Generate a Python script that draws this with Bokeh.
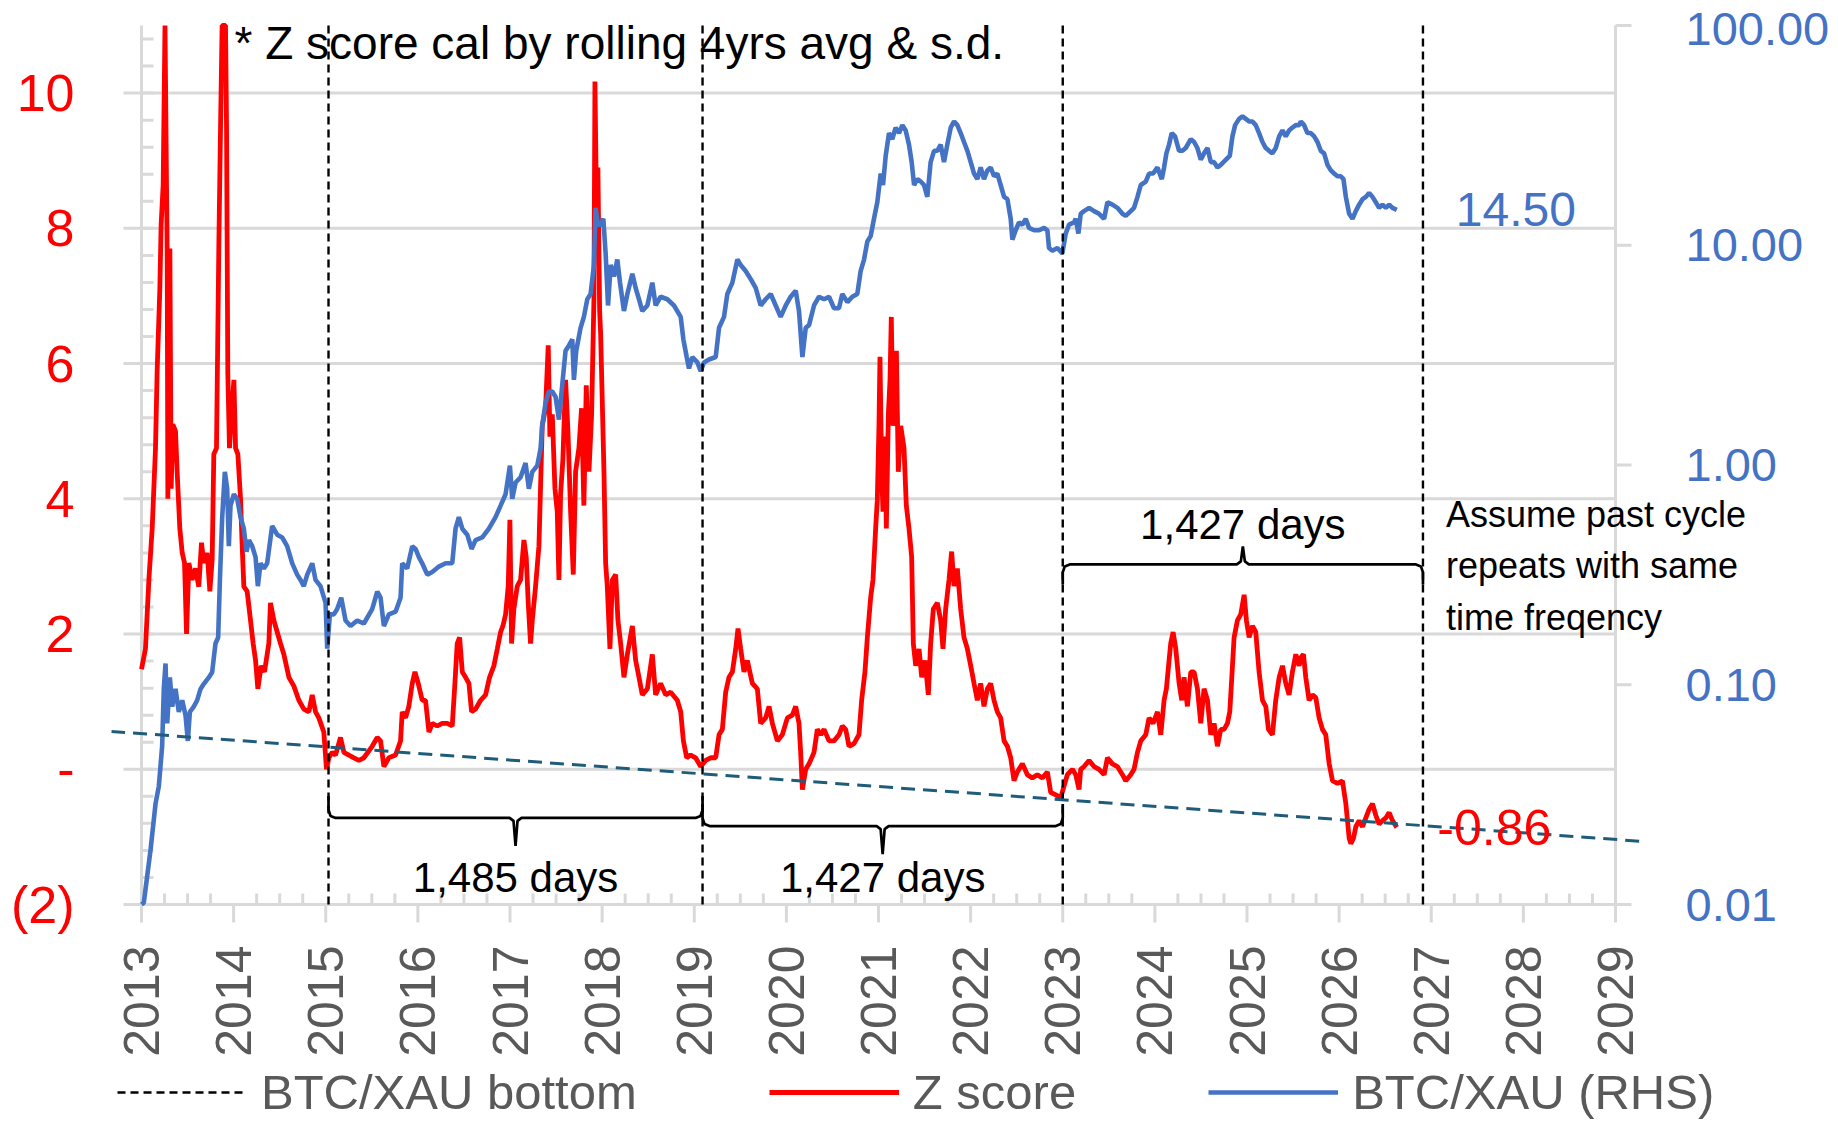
import math
from bokeh.plotting import figure
from bokeh.models import (Range1d, LogScale, FixedTicker, Label, Legend, LegendItem)
from bokeh.embed import file_html
from bokeh.resources import INLINE

# ---------------- data ----------------
z_year = [2013.000, 2013.043, 2013.080, 2013.116, 2013.152, 2013.170, 2013.199, 2013.213, 2013.235, 2013.255,
          2013.279, 2013.286, 2013.308, 2013.322, 2013.340, 2013.369, 2013.387, 2013.416, 2013.442, 2013.467,
          2013.489, 2013.514, 2013.550, 2013.586, 2013.622, 2013.651, 2013.677, 2013.713, 2013.742, 2013.767,
          2013.785, 2013.814, 2013.840, 2013.858, 2013.875, 2013.912, 2013.923, 2013.937, 2013.955, 2013.977,
          2014.003, 2014.021, 2014.046, 2014.075, 2014.093, 2014.111, 2014.147, 2014.176, 2014.212, 2014.238,
          2014.263, 2014.299, 2014.335, 2014.382, 2014.400, 2014.437, 2014.473, 2014.509, 2014.545, 2014.600,
          2014.654, 2014.708, 2014.762, 2014.817, 2014.853, 2014.889, 2014.925, 2014.979, 2015.008, 2015.034,
          2015.070, 2015.106, 2015.160, 2015.197, 2015.251, 2015.305, 2015.360, 2015.414, 2015.504, 2015.559,
          2015.595, 2015.631, 2015.685, 2015.758, 2015.812, 2015.830, 2015.866, 2015.902, 2015.939, 2015.968,
          2016.004, 2016.047, 2016.083, 2016.120, 2016.156, 2016.210, 2016.264, 2016.319, 2016.373, 2016.402,
          2016.427, 2016.453, 2016.482, 2016.518, 2016.554, 2016.583, 2016.626, 2016.681, 2016.735, 2016.778,
          2016.825, 2016.862, 2016.898, 2016.923, 2016.952, 2016.981, 2016.999, 2017.017, 2017.042, 2017.079,
          2017.115, 2017.151, 2017.176, 2017.198, 2017.223, 2017.242, 2017.278, 2017.314, 2017.350, 2017.386,
          2017.415, 2017.433, 2017.459, 2017.488, 2017.513, 2017.531, 2017.549, 2017.574, 2017.603, 2017.629,
          2017.658, 2017.687, 2017.712, 2017.748, 2017.777, 2017.802, 2017.828, 2017.857, 2017.886, 2017.911,
          2017.922, 2017.936, 2017.954, 2017.973, 2017.984, 2018.020, 2018.038, 2018.056, 2018.085, 2018.111,
          2018.147, 2018.172, 2018.201, 2018.237, 2018.274, 2018.328, 2018.364, 2018.400, 2018.436, 2018.491,
          2018.545, 2018.581, 2018.635, 2018.690, 2018.744, 2018.816, 2018.853, 2018.882, 2018.918, 2018.961,
          2019.015, 2019.070, 2019.124, 2019.178, 2019.233, 2019.269, 2019.305, 2019.341, 2019.377, 2019.414,
          2019.450, 2019.475, 2019.504, 2019.540, 2019.576, 2019.631, 2019.685, 2019.721, 2019.775, 2019.812,
          2019.848, 2019.902, 2019.956, 2020.011, 2020.065, 2020.101, 2020.137, 2020.155, 2020.174, 2020.210,
          2020.246, 2020.300, 2020.336, 2020.373, 2020.409, 2020.463, 2020.517, 2020.571, 2020.607, 2020.644,
          2020.680, 2020.734, 2020.788, 2020.817, 2020.853, 2020.879, 2020.915, 2020.940, 2020.969, 2020.987,
          2021.005, 2021.016, 2021.034, 2021.049, 2021.071, 2021.085, 2021.107, 2021.125, 2021.139, 2021.157,
          2021.179, 2021.194, 2021.215, 2021.241, 2021.277, 2021.302, 2021.331, 2021.360, 2021.378, 2021.404,
          2021.440, 2021.469, 2021.505, 2021.541, 2021.566, 2021.595, 2021.639, 2021.675, 2021.700, 2021.729,
          2021.765, 2021.794, 2021.820, 2021.856, 2021.892, 2021.928, 2021.965, 2022.001, 2022.037, 2022.073,
          2022.109, 2022.145, 2022.182, 2022.218, 2022.254, 2022.290, 2022.326, 2022.363, 2022.399, 2022.435,
          2022.471, 2022.507, 2022.562, 2022.616, 2022.670, 2022.724, 2022.779, 2022.833, 2022.869, 2022.924,
          2022.978, 2023.014, 2023.050, 2023.105, 2023.141, 2023.177, 2023.195, 2023.231, 2023.286, 2023.340,
          2023.394, 2023.449, 2023.485, 2023.539, 2023.593, 2023.648, 2023.684, 2023.738, 2023.774, 2023.811,
          2023.847, 2023.901, 2023.937, 2023.981, 2024.028, 2024.064, 2024.100, 2024.125, 2024.154, 2024.172,
          2024.198, 2024.227, 2024.263, 2024.292, 2024.317, 2024.353, 2024.390, 2024.426, 2024.462, 2024.498,
          2024.534, 2024.571, 2024.607, 2024.643, 2024.679, 2024.715, 2024.751, 2024.788, 2024.813, 2024.835,
          2024.860, 2024.896, 2024.932, 2024.969, 2024.994, 2025.023, 2025.059, 2025.095, 2025.131, 2025.168,
          2025.204, 2025.233, 2025.276, 2025.312, 2025.349, 2025.385, 2025.421, 2025.457, 2025.493, 2025.530,
          2025.566, 2025.584, 2025.613, 2025.638, 2025.674, 2025.711, 2025.747, 2025.783, 2025.819, 2025.855,
          2025.892, 2025.928, 2025.982, 2026.036, 2026.073, 2026.109, 2026.127, 2026.156, 2026.181, 2026.217,
          2026.254, 2026.290, 2026.326, 2026.362, 2026.398, 2026.434, 2026.471, 2026.507, 2026.543, 2026.579,
          2026.626]
z_score = [1.48, 1.78, 2.80, 3.56, 4.75, 5.90, 7.10, 8.05, 8.64, 11.00,
           7.60, 4.00, 7.70, 4.15, 5.10, 5.00, 4.40, 3.56, 3.20, 3.05,
           2.00, 3.05, 2.80, 2.97, 2.70, 3.35, 3.05, 3.20, 2.63, 3.10,
           4.66, 4.75, 7.80, 9.50, 11.00, 11.00, 9.50, 5.85, 4.75, 5.25,
           5.76, 4.75, 4.66, 4.00, 3.30, 2.70, 2.63, 2.29, 1.86, 1.61,
           1.19, 1.53, 1.44, 1.86, 2.46, 2.20, 2.03, 1.86, 1.70, 1.36,
           1.23, 1.02, 0.89, 0.85, 1.10, 0.85, 0.76, 0.55, 0.00, 0.17,
           0.25, 0.21, 0.47, 0.25, 0.21, 0.17, 0.13, 0.17, 0.34, 0.47,
           0.42, 0.04, 0.17, 0.21, 0.42, 0.85, 0.76, 0.93, 1.27, 1.44,
           1.27, 1.02, 1.02, 0.55, 0.68, 0.64, 0.68, 0.68, 0.64, 1.27,
           1.86, 1.95, 1.44, 1.36, 1.27, 0.85, 0.89, 1.02, 1.10, 1.36,
           1.53, 1.78, 2.03, 2.12, 2.29, 2.71, 3.69, 1.86, 2.37, 2.71,
           2.80, 3.39, 3.14, 2.46, 1.86, 2.20, 2.71, 3.30, 5.08, 5.34,
           6.27, 4.92, 5.25, 4.15, 3.81, 2.80, 4.07, 4.58, 5.76, 5.00,
           3.81, 2.88, 4.40, 4.75, 5.34, 3.90, 5.68, 4.40, 5.25, 6.95,
           10.17, 8.64, 8.90, 6.78, 6.44, 4.40, 3.05, 2.71, 1.78, 2.80,
           2.88, 2.20, 1.86, 1.36, 1.70, 2.12, 1.61, 1.36, 1.10, 1.19,
           1.70, 1.10, 1.27, 1.10, 1.14, 1.02, 0.85, 0.42, 0.17, 0.21,
           0.17, 0.04, 0.13, 0.17, 0.17, 0.51, 0.59, 1.14, 1.36, 1.44,
           1.78, 2.08, 1.78, 1.44, 1.61, 1.27, 1.19, 0.68, 0.76, 0.93,
           0.68, 0.42, 0.51, 0.76, 0.80, 0.93, 0.68, 0.25, -0.30, 0.00,
           0.08, 0.25, 0.59, 0.51, 0.59, 0.42, 0.42, 0.51, 0.64, 0.59,
           0.34, 0.38, 0.51, 1.02, 1.44, 1.95, 2.54, 2.80, 3.56, 3.98,
           5.08, 6.10, 4.40, 3.81, 4.92, 3.56, 5.25, 5.76, 6.69, 5.08,
           5.76, 6.19, 4.40, 5.08, 4.75, 3.90, 3.56, 3.14, 1.86, 1.53,
           1.78, 1.36, 1.61, 1.10, 1.86, 2.37, 2.46, 2.20, 1.78, 2.37,
           2.80, 3.22, 2.71, 2.97, 2.37, 1.95, 1.78, 1.53, 1.27, 1.02,
           1.27, 0.93, 1.19, 1.27, 1.02, 0.85, 0.76, 0.42, 0.34, 0.17,
           -0.17, -0.04, 0.08, -0.08, -0.13, -0.08, -0.13, -0.04, -0.34, -0.38,
           -0.42, -0.25, -0.08, 0.00, -0.08, -0.30, 0.00, 0.04, 0.13, 0.04,
           0.00, -0.08, 0.17, 0.08, 0.04, -0.08, -0.17, -0.08, 0.00, 0.25,
           0.42, 0.51, 0.76, 0.68, 0.85, 0.51, 1.02, 1.19, 1.61, 1.86,
           2.03, 1.78, 1.27, 1.02, 1.36, 0.93, 1.44, 1.44, 1.19, 0.68,
           1.19, 1.02, 0.51, 0.68, 0.34, 0.59, 0.59, 0.68, 0.85, 1.36,
           1.95, 2.20, 2.29, 2.58, 2.20, 1.95, 2.12, 2.03, 1.44, 1.02,
           0.93, 0.59, 0.51, 1.02, 1.36, 1.53, 1.27, 1.10, 1.44, 1.70,
           1.53, 1.65, 1.70, 1.36, 1.02, 1.10, 1.06, 0.76, 0.59, 0.51,
           0.08, -0.17, -0.21, -0.17, -0.51, -1.02, -1.10, -1.02, -0.85, -0.76,
           -0.85, -0.72, -0.59, -0.51, -0.68, -0.81, -0.76, -0.72, -0.64, -0.76,
           -0.86]

bx_year = [2013.000, 2013.025, 2013.098, 2013.152, 2013.188, 2013.224, 2013.242, 2013.261, 2013.279, 2013.308,
           2013.333, 2013.369, 2013.405, 2013.442, 2013.478, 2013.503, 2013.525, 2013.568, 2013.604, 2013.641,
           2013.677, 2013.731, 2013.767, 2013.803, 2013.832, 2013.851, 2013.876, 2013.905, 2013.930, 2013.948,
           2013.966, 2014.003, 2014.039, 2014.075, 2014.111, 2014.140, 2014.166, 2014.202, 2014.238, 2014.263,
           2014.292, 2014.328, 2014.364, 2014.418, 2014.473, 2014.527, 2014.581, 2014.636, 2014.690, 2014.726,
           2014.762, 2014.799, 2014.853, 2014.889, 2014.943, 2014.998, 2015.016, 2015.045, 2015.088, 2015.124,
           2015.168, 2015.215, 2015.269, 2015.342, 2015.414, 2015.504, 2015.559, 2015.595, 2015.631, 2015.685,
           2015.758, 2015.812, 2015.830, 2015.884, 2015.939, 2015.975, 2016.011, 2016.047, 2016.102, 2016.156,
           2016.228, 2016.301, 2016.373, 2016.409, 2016.445, 2016.482, 2016.536, 2016.583, 2016.626, 2016.699,
           2016.771, 2016.843, 2016.898, 2016.952, 2016.999, 2017.024, 2017.061, 2017.115, 2017.169, 2017.205,
           2017.242, 2017.296, 2017.332, 2017.350, 2017.386, 2017.423, 2017.459, 2017.495, 2017.531, 2017.567,
           2017.603, 2017.640, 2017.676, 2017.694, 2017.719, 2017.766, 2017.802, 2017.839, 2017.875, 2017.911,
           2017.929, 2017.954, 2017.984, 2018.013, 2018.038, 2018.064, 2018.093, 2018.129, 2018.165, 2018.194,
           2018.237, 2018.274, 2018.328, 2018.364, 2018.400, 2018.436, 2018.491, 2018.545, 2018.581, 2018.635,
           2018.708, 2018.780, 2018.853, 2018.882, 2018.918, 2018.943, 2018.979, 2019.034, 2019.070, 2019.106,
           2019.160, 2019.233, 2019.269, 2019.323, 2019.359, 2019.414, 2019.468, 2019.504, 2019.558, 2019.613,
           2019.667, 2019.721, 2019.775, 2019.830, 2019.884, 2019.938, 2019.993, 2020.047, 2020.101, 2020.137,
           2020.174, 2020.210, 2020.246, 2020.300, 2020.354, 2020.409, 2020.463, 2020.517, 2020.571, 2020.607,
           2020.662, 2020.716, 2020.770, 2020.806, 2020.843, 2020.879, 2020.915, 2020.951, 2020.987, 2021.024,
           2021.049, 2021.078, 2021.114, 2021.150, 2021.186, 2021.223, 2021.259, 2021.295, 2021.331, 2021.360,
           2021.386, 2021.422, 2021.458, 2021.494, 2021.530, 2021.566, 2021.603, 2021.639, 2021.675, 2021.711,
           2021.747, 2021.784, 2021.820, 2021.856, 2021.892, 2021.928, 2021.965, 2022.001, 2022.037, 2022.073,
           2022.109, 2022.145, 2022.182, 2022.218, 2022.254, 2022.290, 2022.326, 2022.363, 2022.399, 2022.435,
           2022.453, 2022.489, 2022.525, 2022.562, 2022.598, 2022.634, 2022.688, 2022.743, 2022.797, 2022.833,
           2022.851, 2022.887, 2022.942, 2022.996, 2023.032, 2023.068, 2023.123, 2023.141, 2023.170, 2023.195,
           2023.231, 2023.286, 2023.340, 2023.394, 2023.449, 2023.485, 2023.539, 2023.593, 2023.648, 2023.684,
           2023.738, 2023.774, 2023.811, 2023.847, 2023.901, 2023.937, 2023.981, 2024.028, 2024.075, 2024.100,
           2024.125, 2024.154, 2024.183, 2024.219, 2024.263, 2024.299, 2024.335, 2024.390, 2024.426, 2024.462,
           2024.498, 2024.534, 2024.571, 2024.607, 2024.643, 2024.679, 2024.715, 2024.770, 2024.813, 2024.842,
           2024.871, 2024.914, 2024.951, 2024.987, 2025.023, 2025.059, 2025.095, 2025.131, 2025.168, 2025.204,
           2025.240, 2025.276, 2025.312, 2025.349, 2025.385, 2025.421, 2025.457, 2025.493, 2025.530, 2025.566,
           2025.584, 2025.620, 2025.656, 2025.693, 2025.729, 2025.765, 2025.801, 2025.837, 2025.874, 2025.910,
           2025.946, 2025.982, 2026.018, 2026.047, 2026.073, 2026.109, 2026.145, 2026.181, 2026.217, 2026.254,
           2026.290, 2026.326, 2026.362, 2026.398, 2026.434, 2026.471, 2026.507, 2026.543, 2026.579, 2026.626]
btc_xau = [0.0100, 0.0102, 0.0177, 0.0287, 0.0345, 0.0525, 0.0957, 0.125, 0.0667, 0.108,
           0.0796, 0.0957, 0.0753, 0.0849, 0.0727, 0.0555, 0.0753, 0.0796, 0.0849, 0.0957,
           0.101, 0.108, 0.114, 0.154, 0.164, 0.300, 0.579, 0.931, 0.780, 0.427,
           0.653, 0.736, 0.702, 0.579, 0.513, 0.403, 0.455, 0.427, 0.381, 0.281,
           0.357, 0.338, 0.357, 0.528, 0.482, 0.468, 0.427, 0.357, 0.317, 0.300,
           0.281, 0.317, 0.357, 0.300, 0.281, 0.236, 0.146, 0.209, 0.209, 0.221,
           0.249, 0.196, 0.185, 0.196, 0.190, 0.221, 0.265, 0.249, 0.185, 0.209,
           0.215, 0.249, 0.357, 0.338, 0.427, 0.415, 0.381, 0.357, 0.317, 0.326,
           0.345, 0.357, 0.357, 0.513, 0.579, 0.513, 0.482, 0.415, 0.455, 0.468,
           0.513, 0.579, 0.653, 0.736, 0.993, 0.702, 0.832, 0.880, 1.02, 0.780,
           0.931, 0.993, 1.19, 1.51, 1.92, 2.16, 2.16, 2.04, 1.61, 2.31,
           3.31, 3.50, 3.73, 2.44, 3.31, 4.21, 4.72, 5.68, 6.00, 8.13,
           14.8, 12.4, 12.4, 13.2, 9.18, 5.32, 8.13, 7.21, 8.61, 6.76,
           5.02, 6.00, 7.41, 6.39, 5.68, 5.02, 5.32, 6.76, 5.32, 5.83,
           5.68, 5.32, 4.72, 3.73, 3.10, 2.75, 3.10, 2.93, 2.67, 2.93,
           3.02, 3.10, 4.21, 4.72, 6.00, 6.76, 8.61, 8.13, 7.63, 7.01,
           6.39, 5.32, 5.68, 6.00, 5.32, 4.72, 5.32, 5.83, 6.21, 5.02,
           3.10, 4.21, 4.33, 5.32, 5.83, 5.68, 5.83, 5.17, 5.17, 6.00,
           5.51, 5.83, 6.00, 7.63, 8.61, 10.4, 11.0, 13.2, 15.7, 21.2,
           18.8, 25.5, 32.4, 30.4, 34.3, 32.4, 35.2, 33.3, 28.7, 23.9,
           18.8, 20.0, 19.5, 18.8, 16.6, 23.9, 26.9, 26.9, 28.7, 23.9,
           28.7, 34.3, 36.6, 35.2, 32.4, 29.5, 26.9, 23.9, 21.2, 20.0,
           22.6, 20.0, 21.9, 22.6, 20.6, 21.2, 18.8, 16.6, 16.2, 13.2,
           10.6, 11.7, 12.7, 12.4, 13.2, 12.0, 11.7, 11.7, 12.0, 11.7,
           9.71, 9.44, 9.71, 9.18, 11.3, 12.4, 12.7, 13.2, 11.3, 13.9,
           14.3, 14.8, 14.3, 13.9, 13.2, 15.7, 15.3, 14.8, 13.9, 13.6,
           14.3, 14.8, 16.6, 18.8, 19.5, 21.2, 21.2, 22.6, 20.0, 22.6,
           26.2, 28.7, 32.4, 31.3, 26.9, 26.9, 27.7, 30.4, 29.5, 27.7,
           24.5, 26.2, 27.7, 23.9, 23.9, 22.6, 23.2, 24.5, 25.5, 31.3,
           35.2, 37.6, 38.6, 37.6, 36.6, 36.6, 35.2, 32.4, 29.5, 27.7,
           26.9, 26.2, 27.7, 31.3, 33.3, 31.3, 33.3, 34.3, 35.2, 35.2,
           36.6, 35.2, 32.4, 32.4, 31.3, 29.5, 26.9, 26.2, 23.2, 21.9,
           21.2, 20.6, 20.6, 20.0, 16.6, 13.9, 13.2, 14.3, 15.3, 16.2,
           16.6, 17.3, 16.6, 15.7, 14.8, 15.3, 14.8, 15.3, 14.8, 14.5]

bottom_years = [2015.03, 2019.09, 2023.00, 2026.91]          # BTC/XAU cycle bottoms
cycle_labels = ["1,485 days", "1,427 days", "1,427 days"]
trend_x = [2012.67, 2029.33]                                  # dashed support line
trend_y = [0.56, -1.07]
year_ticks = list(range(2013, 2030))
z_ticks = [-2, 0, 2, 4, 6, 8, 10]
rhs_ticks = [0.01, 0.1, 1, 10, 100]
last_z_label = "-0.86"
last_bx_label = "14.50"
note_top = "* Z score cal by rolling 4yrs avg & s.d."
note_right = ["Assume past cycle", "repeats with same", "time freqency"]
legend_labels = ["BTC/XAU bottom", "Z score", "BTC/XAU (RHS)"]

# ---------------- styling / geometry ----------------
FONT = "Liberation Sans"
GRID = "#D9D9D9"
RED = "#FF0000"
BLUE = "#4472C4"
GREY_TXT = "#595959"
TEAL = "#1F5C7A"

AX0, AX1, AY0, AY1 = 2013, 2029, -2, 11        # axis extents
PXX = 1474 / (AX1 - AX0)                         # px per year
PXY = 879 / (AY1 - AY0)                          # px per z unit
FW, FH = 1725, 1124
XL = AX0 - 30 / PXX
XR = XL + FW / PXX
YT = AY1 + 25 / PXY
YB = YT - FH / PXY
RHS_TOP = 10 ** (2 + (YT - AY1) * 4 / 13)
RHS_BOT = 10 ** (-2 + (YB - AY0) * 4 / 13)

p = figure(frame_width=FW, frame_height=FH,
           x_range=Range1d(XL, XR), y_range=Range1d(YB, YT),
           output_backend="svg", toolbar_location=None,
           min_border_left=111, min_border_top=0, min_border_right=0, min_border_bottom=0)
p.outline_line_color = None
p.background_fill_color = "white"
p.border_fill_color = "white"
p.extra_y_ranges = {"rhs": Range1d(RHS_BOT, RHS_TOP)}
p.extra_y_scales = {"rhs": LogScale()}
p.xgrid.visible = False
p.ygrid.visible = False
p.xaxis.visible = False

# left axis labels
ya = p.yaxis[0]
ya.ticker = FixedTicker(ticks=z_ticks)
ya.major_label_overrides = {-2: "(2)", 0: "-"}
ya.major_label_text_font = FONT
ya.major_label_text_font_size = "52px"
ya.major_label_text_color = RED
ya.axis_line_color = None
ya.major_tick_line_color = None
ya.minor_tick_line_color = None
ya.major_tick_out = 0
ya.minor_tick_out = 0
ya.major_label_standoff = 37

# gridlines (with their left tick stubs), axis lines and tick marks
gx0 = AX0 - 18 / PXX
p.segment(x0=[gx0] * len(z_ticks), y0=z_ticks, x1=[AX1] * len(z_ticks), y1=z_ticks,
          line_color=GRID, line_width=3)
p.segment(x0=[AX0, AX1], y0=[AY0, AY0], x1=[AX0, AX1], y1=[AY1, AY1], line_color=GRID, line_width=3)
minor_y = [round(AY0 + 0.4 * i, 1) for i in range(1, 33)]
p.segment(x0=[AX0] * len(minor_y), y0=minor_y, x1=[AX0 + 12 / PXX] * len(minor_y), y1=minor_y,
          line_color=GRID, line_width=3)
p.segment(x0=year_ticks, y0=[AY0] * len(year_ticks), x1=year_ticks, y1=[AY0 - 18 / PXY] * len(year_ticks),
          line_color=GRID, line_width=3)
minor_x = [y + q / 4 for y in year_ticks[:-1] for q in range(1, 4)]
p.segment(x0=minor_x, y0=[AY0] * len(minor_x), x1=minor_x, y1=[AY0 + 11 / PXY] * len(minor_x),
          line_color=GRID, line_width=3)
p.segment(x0=[AX1] * len(rhs_ticks), y0=rhs_ticks, x1=[AX1 + 16 / PXX] * len(rhs_ticks), y1=rhs_ticks,
          line_color=GRID, line_width=3, y_range_name="rhs")

# tick labels: right (log) axis and rotated year labels
for t in rhs_ticks:
    p.add_layout(Label(x=AX1 + 70 / PXX, y=t, y_range_name="rhs", text=f"{t:.2f}", text_align="left",
                       text_baseline="middle", text_font=FONT, text_font_size="47px", text_color=BLUE,
                       y_offset=-3 if t == rhs_ticks[-1] else 0))
for yr in year_ticks:
    p.add_layout(Label(x=yr, y=AY0 - 41 / PXY, text=str(yr), angle=math.pi / 2, text_align="right",
                       text_baseline="middle", text_font=FONT, text_font_size="50px", text_color=GREY_TXT))

# series
r_z = p.line(z_year, z_score, line_color=RED, line_width=4.8)
r_b = p.line(bx_year, btc_xau, line_color=BLUE, line_width=4.6, y_range_name="rhs")
r_v = p.segment(x0=bottom_years, y0=[AY0] * len(bottom_years), x1=bottom_years, y1=[AY1] * len(bottom_years),
                line_color="black", line_width=2.4, line_dash="8 5")
p.line(trend_x, trend_y, line_color=TEAL, line_width=3, line_dash="14 8")

# curly brackets between bottoms
def brace(xa_, xb_, yl, s, end_px, tip_px):
    dx = lambda px: px / PXX
    dy = lambda px: px / PXY
    xc = (xa_ + xb_) / 2
    xs = [xa_, xa_, xa_ + dx(2), xa_ + dx(7), xc - dx(6), xc - dx(2), xc, xc + dx(2), xc + dx(6),
          xb_ - dx(7), xb_ - dx(2), xb_, xb_]
    ys = [yl - s * dy(end_px), yl - s * dy(8), yl - s * dy(2), yl, yl, yl + s * dy(3), yl + s * dy(tip_px),
          yl + s * dy(3), yl, yl, yl - s * dy(2), yl - s * dy(8), yl - s * dy(end_px)]
    p.line(xs, ys, line_color="black", line_width=2.7)
    return xc

brace_levels = [(-0.72, -1, 22, 28, -1.60), (-0.84, -1, 22, 28, -1.60), (3.03, 1, 20, 18, 3.62)]
for i, (yl, s, e, t, ty) in enumerate(brace_levels):
    xc = brace(bottom_years[i], bottom_years[i + 1], yl, s, e, t)
    p.add_layout(Label(x=xc, y=ty, text=cycle_labels[i], text_align="center", text_baseline="middle",
                       text_font=FONT, text_font_size="42px", text_color="black"))

# notes & last values
p.add_layout(Label(x=2014.01, y=10.74, text=note_top, text_align="left", text_baseline="middle",
                   text_font=FONT, text_font_size="46px", text_color="black"))
for k, line in enumerate(note_right):
    p.add_layout(Label(x=2027.16, y=3.77 - k * 0.76, text=line, text_align="left", text_baseline="middle",
                       text_font=FONT, text_font_size="36px", text_color="black"))
p.add_layout(Label(x=z_year[-1] + 0.44, y=z_score[-1], text=last_z_label, text_align="left",
                   text_baseline="middle", text_font=FONT, text_font_size="50px", text_color=RED))
p.add_layout(Label(x=bx_year[-1] + 0.64, y=btc_xau[-1], y_range_name="rhs", text=last_bx_label,
                   text_align="left", text_baseline="middle", text_font=FONT, text_font_size="48px",
                   text_color=BLUE))

# legend (inside the tall frame, under the year labels)
legend = Legend(items=[LegendItem(label=legend_labels[0], renderers=[r_v]),
                       LegendItem(label=legend_labels[1], renderers=[r_z]),
                       LegendItem(label=legend_labels[2], renderers=[r_b])],
                orientation="horizontal", location=(6, 4), padding=0, margin=0,
                glyph_width=130, glyph_height=20, label_standoff=14, spacing=132,
                label_text_font=FONT, label_text_font_size="49px", label_text_color=GREY_TXT,
                border_line_color=None, background_fill_alpha=0)
p.add_layout(legend)

open("out.html", "w").write(file_html(p, INLINE))
